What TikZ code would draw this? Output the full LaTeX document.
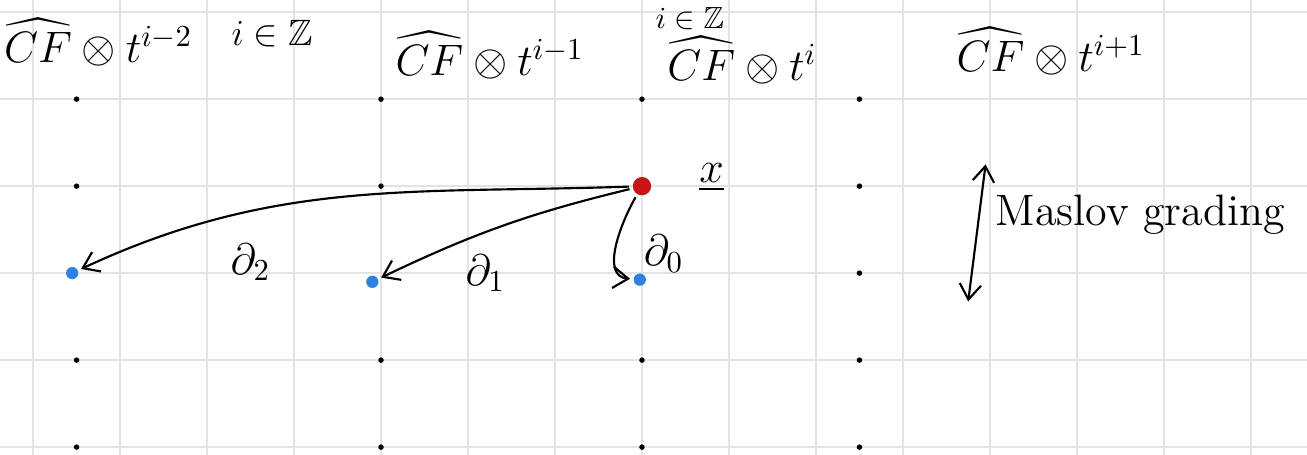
\documentclass[tikz,border=0pt]{standalone}
\usepackage{amsmath,amssymb}
\usetikzlibrary{arrows.meta, positioning}
\definecolor{redink}{RGB}{200,20,20}
\definecolor{blueink}{RGB}{45,130,225}

\begin{document}
\begin{tikzpicture}[
        x=0.5cm, y=0.5cm,
        >={Straight Barb[length=5pt, width=7pt]},
        gridline/.style={draw=gray!22, line width=0.5pt},
        tick/.style={circle, fill=black, inner sep=0pt, minimum size=1.8pt},
        gen/.style={circle, fill=redink, inner sep=0pt, minimum size=6pt},
        target/.style={circle, fill=blueink, inner sep=0pt, minimum size=4pt},
        ink/.style={font=\Large, inner sep=1pt},
        smallink/.style={font=\large, inner sep=1pt},
        diff/.style={->, line width=0.7pt, shorten >=1pt, shorten <=1pt}
    ]
    \fill[white] (-0.76,-0.18) rectangle (29.29,10.28);
    \useasboundingbox (-0.76,-0.18) rectangle (29.29,10.28);
    \draw[gridline] (-0.76,-0.18) grid (29.29,10.28);

    \node[ink] (cftwo) at (1.5, 9.3) {$\widehat{CF}\otimes t^{i-2}$};
    \node[smallink] (zone) at (5.5, 9.5) {$i\in\mathbb{Z}$};
    \node[ink] (cfone) at (10.5, 9.0) {$\widehat{CF}\otimes t^{i-1}$};
    \node[font=\normalsize, inner sep=1pt] (ztwo) at (15.1, 9.85) {$i\in\mathbb{Z}$};
    \node[ink] (cfzero) at (16.3, 8.9) {$\widehat{CF}\otimes t^{i}$};
    \node[ink] (cfnext) at (23.4, 9.1) {$\widehat{CF}\otimes t^{i+1}$};

    \foreach \c in {1,8,14,19} {
        \foreach \r in {0,2,8} {
            \node[tick] (d-\c-\r) at (\c,\r) {};
        }
    }
    \foreach \c in {1,8,19} {
        \node[tick] (d-\c-6) at (\c,6) {};
    }
    \node[tick] (d-19-4) at (19,4) {};

    \node[gen] (x) at (14,6) {};
    \node[ink] (xlabel) at (15.6,6.2) {$\underline{x}$};
    \node[target] (btwo) at (0.9,4) {};
    \node[target] (bone) at (7.8,3.8) {};
    \node[target] (bzero) at (13.95,3.85) {};

    \draw[diff] (x) to[out=182, in=25] (btwo);
    \draw[diff] (x) to[bend right=6] (bone);
    \draw[diff] (x) to[out=240, in=175] (bzero);
    \node[ink] (dtwo) at (5.0,4.25) {$\partial_2$};
    \node[ink] (done) at (10.4,4.0) {$\partial_1$};
    \node[ink] (dzero) at (14.5,4.45) {$\partial_0$};

    \coordinate (mtop) at (21.9,6.5);
    \coordinate (mbot) at (21.5,3.35);
    \draw[<->, line width=0.7pt] (mbot) -- (mtop);
    \node[ink, anchor=west] (maslov) at (22.05,5.35) {Maslov grading};
\end{tikzpicture}
\end{document}
